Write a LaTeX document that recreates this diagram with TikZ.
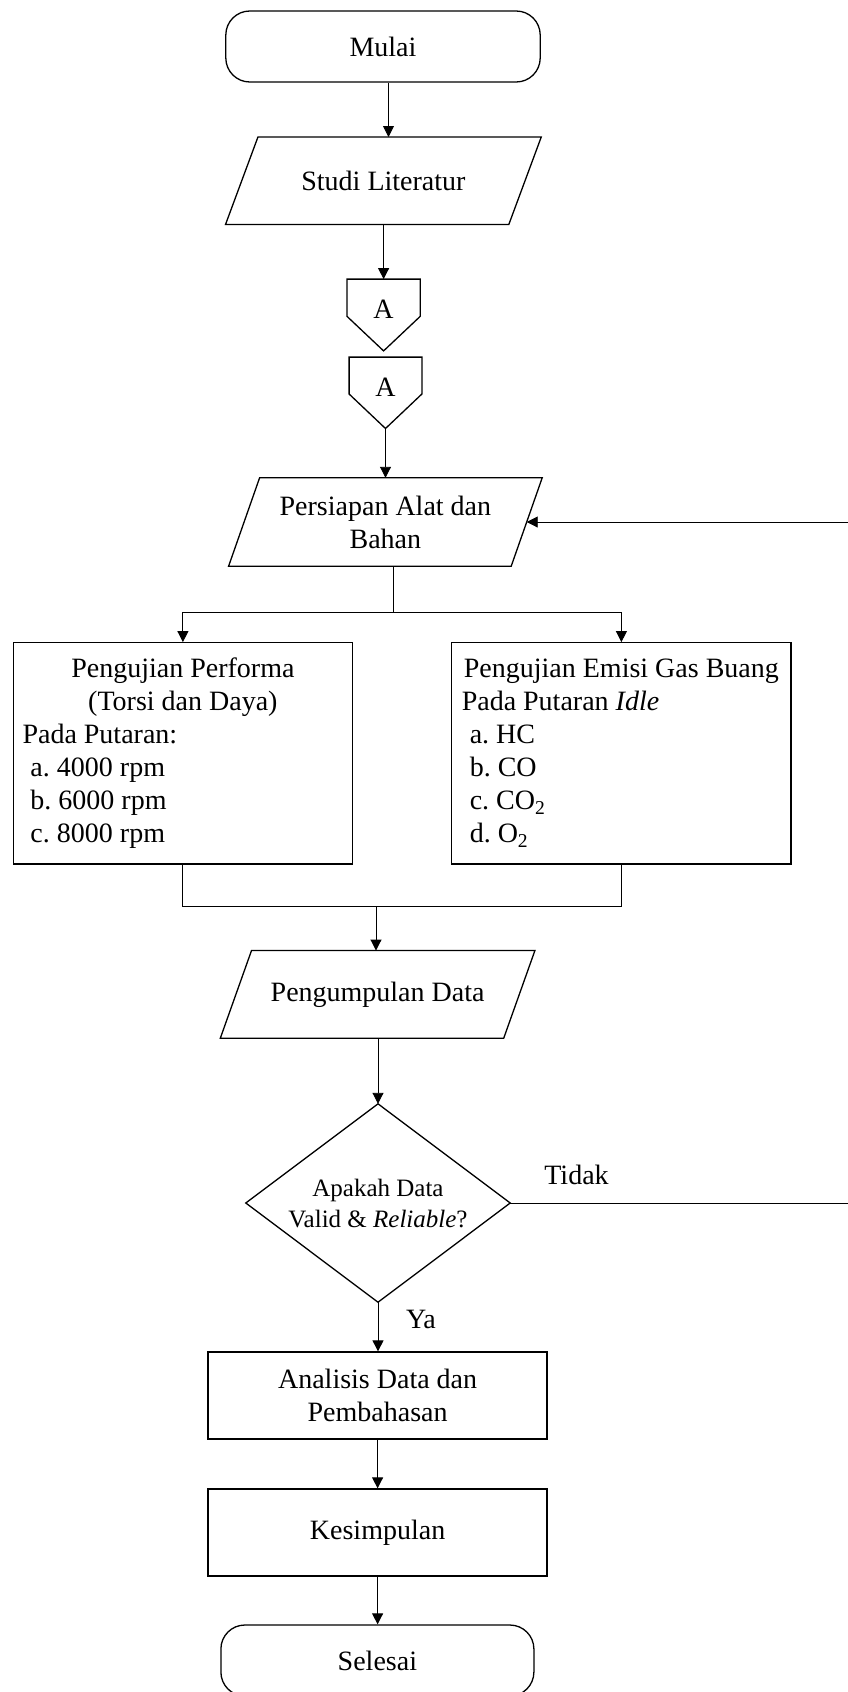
\documentclass[tikz,border=0pt]{standalone}
\usepackage{fontspec}
\setmainfont{Liberation Serif}
\usetikzlibrary{arrows.meta,calc}
\tikzset{
  conn/.style={line width=0.9pt},
  arr/.style={conn, -{Triangle[length=11pt,width=11pt]}},
  shp/.style={line width=1.3pt},
  term/.style={shp, draw, rectangle, rounded corners=24pt, align=flush center, inner sep=0pt},
  proc/.style={shp, draw, rectangle, align=flush center, inner sep=0pt},
  frame/.style={rectangle, inner sep=0pt, align=flush center},
  txt/.style={inner sep=0pt},
}
\newcommand\drawpara[2]{\draw[shp] ([xshift=#2]#1.north west) -- ([xshift=#2]#1.north east) -- ([xshift=-#2]#1.south east) -- ([xshift=-#2]#1.south west) -- cycle;}
\newcommand\drawoffpage[1]{\draw[shp] (#1.north west) -- (#1.north east) -- ([yshift=34.5pt]#1.south east) -- (#1.south) -- ([yshift=34.5pt]#1.south west) -- cycle;}
\begin{document}
\frenchspacing
\begin{tikzpicture}[x=1pt, y=-1pt, font=\fontsize{28}{33}\selectfont\frenchspacing]
\useasboundingbox (0,0) rectangle (847,1692);

% nodes
\node[term, minimum width=314.4pt, minimum height=71pt] (mulai) at (383,46.5) {Mulai};

\node[frame, minimum width=282.9pt, minimum height=87pt] (studi) at (383.4,180.7) {Studi Literatur};
\drawpara{studi}{16.2pt}

\node[frame, minimum width=72.7pt, minimum height=71.4pt, text depth=12pt] (a1) at (383.6,315) {A};
\drawoffpage{a1}

\node[frame, minimum width=72.4pt, minimum height=71pt, text depth=12pt] (a2) at (385.5,392.8) {A};
\drawoffpage{a2}

\node[frame, minimum width=282.2pt, minimum height=88pt] (persiapan) at (385.4,522) {Persiapan Alat dan\\Bahan};
\drawpara{persiapan}{15.5pt}

\node[proc, minimum height=221.3pt, text width=320.8pt, inner xsep=9pt, align=flush left] (kiri) at (182.9,753.4)
  {\makebox[320.8pt]{Pengujian Performa}\\
   \makebox[320.8pt]{(Torsi dan Daya)}\\
   Pada Putaran:\\
   \hspace*{8pt}a. 4000 rpm\\
   \hspace*{8pt}b. 6000 rpm\\
   \hspace*{8pt}c. 8000 rpm};

\node[proc, minimum height=221.3pt, text width=319.3pt, inner xsep=10pt, align=flush left] (kanan) at (621.4,753.4)
  {\makebox[319.3pt]{Pengujian Emisi Gas Buang}\\
   Pada Putaran \textit{Idle}\\
   \hspace*{8pt}a. HC\\
   \hspace*{8pt}b. CO\\
   \hspace*{8pt}c. CO\textsubscript{2}\\
   \hspace*{8pt}d. O\textsubscript{2}};

\node[frame, minimum width=283pt, minimum height=87.3pt] (kumpul) at (377.6,994.4) {Pengumpulan Data};
\drawpara{kumpul}{15.6pt}

\node[frame, minimum width=264pt, minimum height=198pt, font=\fontsize{25}{31}\selectfont\frenchspacing] (dia) at (378,1203)
  {Apakah Data\\Valid \& \textit{Reliable}?};
\draw[shp] (dia.north) -- (dia.east) -- (dia.south) -- (dia.west) -- cycle;

\node[proc, minimum width=339pt, minimum height=87pt] (analisis) at (377.6,1395.5) {Analisis Data dan\\Pembahasan};
\node[proc, minimum width=339pt, minimum height=87pt] (simpul) at (377.6,1532.5) {Kesimpulan};
\node[term, minimum width=313pt, minimum height=71pt] (selesai) at (377.4,1660.5) {Selesai};

\node[txt] (tidak) at (576.5,1175) {Tidak};
\node[txt] (ya) at (421,1319) {Ya};

% coordinates
\coordinate (split) at (393.3,612.7);
\coordinate (merge) at (376,906.3);
\coordinate (r1) at (848.5,1203);
\coordinate (r2) at (848.5,522);

% connectors
\draw[arr] ([xshift=5.5pt]mulai.south) -- ([xshift=5.5pt]mulai.south |- studi.north);
\draw[arr] (a1.north |- studi.south) -- (a1.north);
\draw[arr] (a2.south) -- (a2.south |- persiapan.north);
\draw[conn] (split |- persiapan.south) -- (split);
\draw[arr] (split) -| (kiri.north);
\draw[arr] (split) -| (kanan.north);
\draw[conn] (kiri.south) |- (merge);
\draw[conn] (kanan.south) |- (merge);
\draw[arr] (merge) -- (merge |- kumpul.north);
\draw[arr] (dia.north |- kumpul.south) -- (dia.north);
\draw[arr] (dia.south) -- (dia.south |- analisis.north);
\draw[arr] (analisis.south) -- (simpul.north);
\draw[arr] (simpul.south) -- (simpul.south |- selesai.north);
\draw[arr] (dia.east) -- (r1) -- (r2) -- (persiapan.east);
\end{tikzpicture}
\end{document}
